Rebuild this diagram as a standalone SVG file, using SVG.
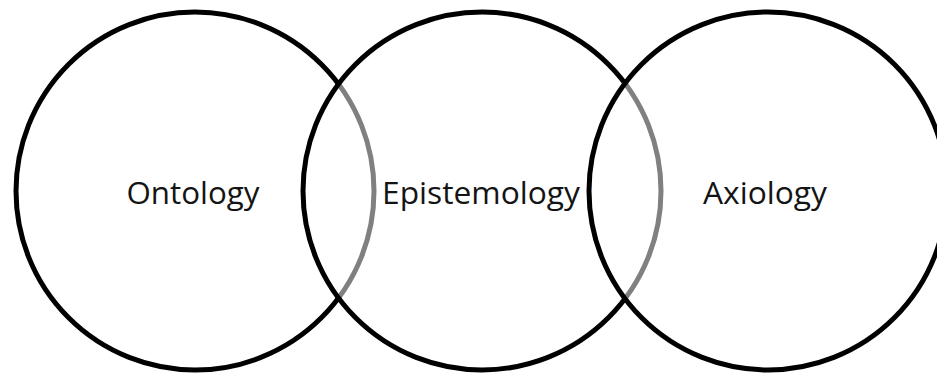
<svg xmlns="http://www.w3.org/2000/svg" width="937" height="376" viewBox="0 0 937 376">
  <style>
    .ring { fill: #ffffff; fill-opacity: 0.5; stroke: #000000; stroke-width: 5; }
    .label { font-family: "Open Sans", "Noto Sans", "Liberation Sans", sans-serif; font-size: 31px; fill: #141414; text-anchor: middle; }
  </style>
  <rect width="937" height="376" fill="#ffffff"/>
  <!-- Three overlapping circles; each half-transparent fill greys the previous outline -->
  <g id="ontology">
    <circle class="ring" cx="195" cy="191" r="179"/>
    <text class="label" x="193" y="204" textLength="133" lengthAdjust="spacingAndGlyphs">Ontology</text>
  </g>
  <g id="epistemology">
    <circle class="ring" cx="482" cy="191" r="179"/>
    <text class="label" x="481" y="204" textLength="198" lengthAdjust="spacingAndGlyphs">Epistemology</text>
  </g>
  <g id="axiology">
    <circle class="ring" cx="768" cy="191" r="179"/>
    <text class="label" x="765" y="204" textLength="124" lengthAdjust="spacingAndGlyphs">Axiology</text>
  </g>
  <g id="connectors"/>
</svg>
